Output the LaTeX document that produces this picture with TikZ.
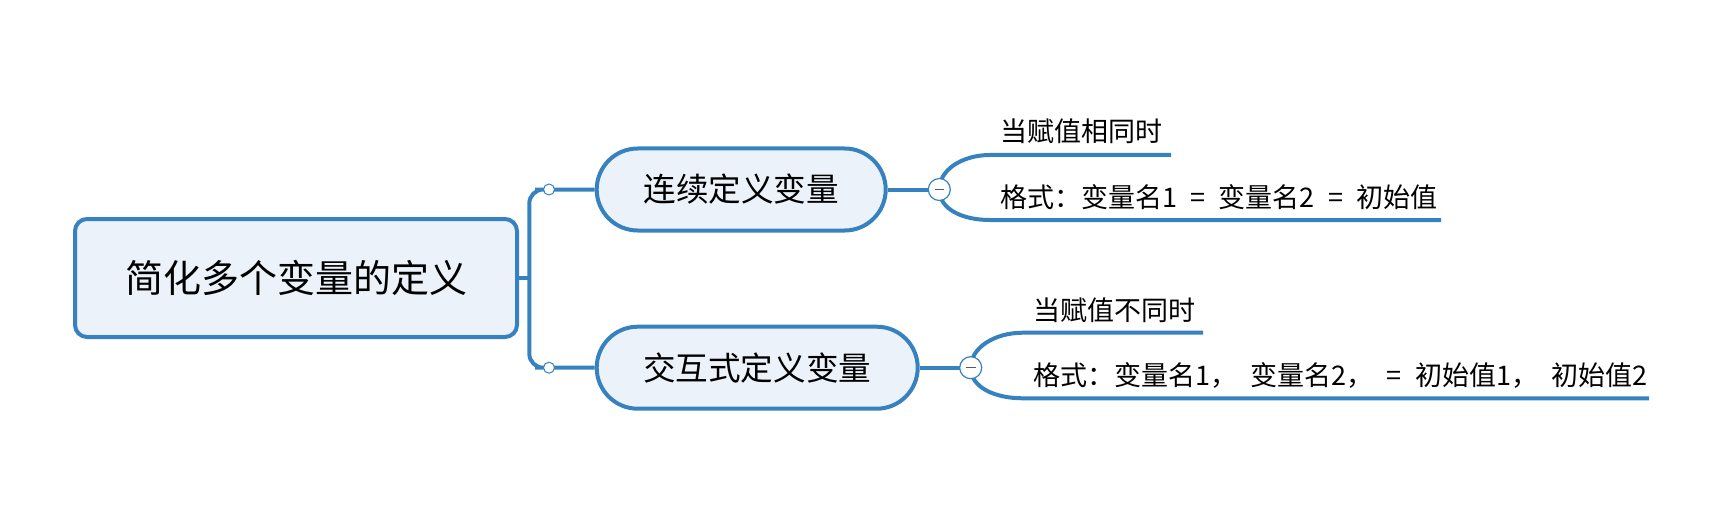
\documentclass[tikz,border=0pt]{standalone}
\usepackage{fontspec}
\setmainfont{Noto Sans CJK SC}
\newfontfamily\leaffont[WordSpace=2.2]{Noto Sans CJK SC}
\definecolor{mblue}{RGB}{54,130,192}
\definecolor{mfill}{RGB}{235,242,249}
\definecolor{mgray}{RGB}{90,90,90}
\tikzset{
  conn/.style={draw=mblue, line width=2pt},
  rootbox/.style={draw=mblue, fill=mfill, line width=2pt, rounded corners=6pt,
    minimum width=221pt, minimum height=59pt, inner sep=0pt, font=\fontsize{19}{22}\selectfont},
  topicbox/.style={draw=mblue, fill=mfill, line width=2pt, rounded corners=20.5pt,
    minimum height=41pt, inner sep=0pt, font=\fontsize{16.3}{19}\selectfont},
  leaf/.style={anchor=west, inner sep=0pt, font=\leaffont\fontsize{13.5}{16}\selectfont},
  joint/.style={circle, draw=mblue, fill=white, line width=0.5pt, minimum size=5.5pt, inner sep=0pt},
  fold/.style={circle, draw=mblue, fill=white, line width=0.6pt, minimum size=11pt, inner sep=0pt},
}
\begin{document}
\begin{tikzpicture}[x=0.5pt, y=-0.5pt]
\useasboundingbox (0,0) rectangle (1735,519);
% root
\node[rootbox] (root) at (296,278) {简化多个变量的定义};
% topics
\node[topicbox, minimum width=144.5pt] (n1) at (741.2,189.5) {连续定义变量};
\node[topicbox, minimum width=160.5pt] (n2) at (757.2,367.7) {交互式定义变量};
% trunk
\coordinate (trunk) at (529.3,278);
\coordinate (c1pos) at (549,189.5);
\coordinate (c2pos) at (549,367.7);
\draw[conn] (root.east) -- (trunk);
\draw[conn, rounded corners=7pt] (trunk) |- (c1pos) -- (n1.west);
\draw[conn, rounded corners=7pt] (trunk) |- (c2pos) -- (n2.west);
\node[joint] (c1) at (c1pos) {};
\node[joint] (c2) at (c2pos) {};
% branch 1
\coordinate (m1pos) at (939.3,189.5);
\coordinate (u1s) at (990,155);
\coordinate (u1e) at (1171,155);
\coordinate (l1s) at (990,220);
\coordinate (l1e) at (1441,220);
\draw[conn] (n1.east) -- (m1pos);
\draw[conn] (m1pos) .. controls (939.3,170) and (962,155) .. (u1s) -- (u1e);
\draw[conn] (m1pos) .. controls (939.3,209) and (962,220) .. (l1s) -- (l1e);
\node[fold] (m1) at (m1pos) {};
\draw[mgray, line width=0.6pt] ([xshift=-2.4pt]m1.center) -- ([xshift=2.4pt]m1.center);
\node[leaf] (t1) at (1000,131.7) {当赋值相同时};
\node[leaf] (t2) at (1000,197.5) {格式：变量名1 = 变量名2 = 初始值};
% branch 2
\coordinate (m2pos) at (970.7,367.7);
\coordinate (u2s) at (1023,332.7);
\coordinate (u2e) at (1203,332.7);
\coordinate (l2s) at (1023,398.3);
\coordinate (l2e) at (1649,398.3);
\draw[conn] (n2.east) -- (m2pos);
\draw[conn] (m2pos) .. controls (970.7,348) and (994,332.7) .. (u2s) -- (u2e);
\draw[conn] (m2pos) .. controls (970.7,387) and (994,398.3) .. (l2s) -- (l2e);
\node[fold] (m2) at (m2pos) {};
\draw[mgray, line width=0.6pt] ([xshift=-2.4pt]m2.center) -- ([xshift=2.4pt]m2.center);
\node[leaf] (t3) at (1033,310) {当赋值不同时};
\node[leaf] (t4) at (1033,375) {格式：变量名1， 变量名2， = 初始值1， 初始值2};
\end{tikzpicture}
\end{document}
